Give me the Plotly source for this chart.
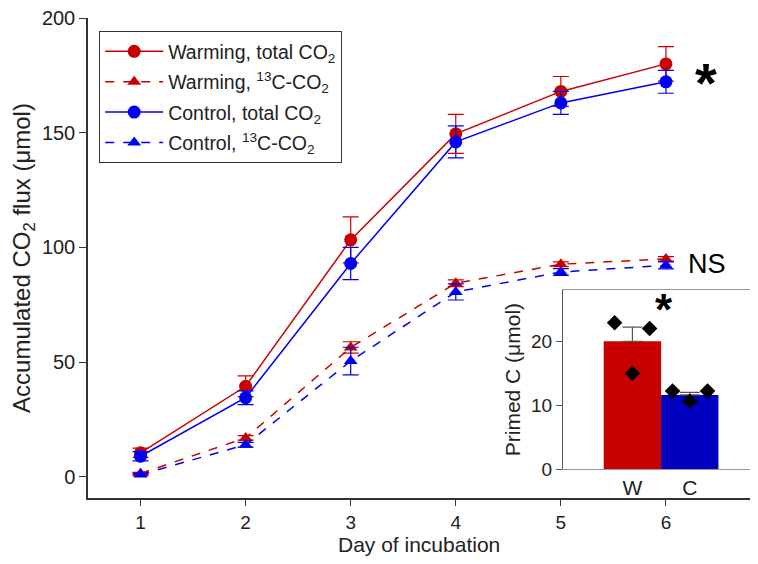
import plotly.graph_objects as go

days = [1, 2, 3, 4, 5, 6]
warm_total = [10.5, 39.5, 103.3, 149.5, 168.0, 180.0]
warm_total_err = [2.0, 4.5, 10.0, 8.5, 6.5, 7.5]
ctrl_total = [9.0, 34.5, 93.0, 146.0, 163.0, 172.2]
ctrl_total_err = [2.0, 3.0, 7.0, 7.0, 5.0, 5.0]
warm_13c = [1.5, 17.0, 56.4, 84.4, 92.7, 95.0]
warm_13c_err = [0.5, 1.0, 2.5, 1.5, 1.0, 1.0]
ctrl_13c = [1.0, 14.0, 50.5, 80.6, 89.3, 92.2]
ctrl_13c_err = [0.5, 1.0, 6.0, 3.5, 1.5, 1.5]

inset_cats = [0, 1]
inset_labels = ["W", "C"]
primed_mean = [20.0, 11.6]
primed_err = [2.2, 0.4]
primed_pts_x = [-0.31, 0.0, 0.3, 0.7, 1.0, 1.31]
primed_pts_y = [22.9, 15.0, 22.0, 12.2, 10.6, 12.2]

RED = "#C80000"
BLUE = "#0000F0"
FONT = "Arial"

fig = go.Figure()

def add_series(y, err, name, color, symbol, dash):
    fig.add_trace(go.Scatter(
        x=days, y=y, name=name, mode="lines+markers",
        line=dict(color=color, width=1.5, dash=dash),
        marker=dict(color=color, size=13 if symbol == "circle" else 12, symbol=symbol),
        error_y=dict(type="data", array=err, color=color, thickness=1.2, width=8),
        legendgroup=name,
    ))

add_series(warm_total, warm_total_err, "Warming, total CO<sub>2</sub>", RED, "circle", "solid")
add_series(warm_13c, warm_13c_err, "Warming, <sup>13</sup>C-CO<sub>2</sub>", RED, "triangle-up", "dash")
add_series(ctrl_total, ctrl_total_err, "Control, total CO<sub>2</sub>", BLUE, "circle", "solid")
add_series(ctrl_13c, ctrl_13c_err, "Control, <sup>13</sup>C-CO<sub>2</sub>", BLUE, "triangle-up", "dash")

fig.add_trace(go.Bar(
    x=inset_cats, y=primed_mean, width=1.0,
    marker=dict(color=["#C80000", "#0000C0"], line=dict(width=0)),
    error_y=dict(type="data", array=primed_err, arrayminus=[0, 0], color="#555555", thickness=1.2, width=10),
    xaxis="x2", yaxis="y2", showlegend=False,
))
fig.add_trace(go.Scatter(
    x=primed_pts_x, y=primed_pts_y, mode="markers",
    marker=dict(symbol="diamond", size=12, color="black"),
    xaxis="x2", yaxis="y2", showlegend=False,
))

# page body has an 8px margin; figure sized so the plot area lands where the reference has it
W, H = 742, 549
L, T, B = 80, 10, 59

fig.update_layout(
    width=W, height=H,
    margin=dict(l=L, r=0, t=T, b=B, autoexpand=False),
    paper_bgcolor="white", plot_bgcolor="white",
    font=dict(family=FONT, size=20, color="#222"),
    showlegend=True,
    legend=dict(
        x=0.0166, y=0.973, xanchor="left", yanchor="top",
        bordercolor="#333", borderwidth=1.2, bgcolor="white",
        font=dict(size=19.5, family=FONT, color="#222"),
        tracegroupgap=2, itemwidth=58,
    ),
    xaxis=dict(
        domain=[0, 1], range=[0.5, 6.8], tickvals=days, automargin=False,
        ticklabeloverflow="allow",
        showline=True, linecolor="#333", linewidth=1.5,
        ticks="outside", ticklen=6, tickcolor="#333",
        showgrid=False, zeroline=False,
        tickfont=dict(size=19),
    ),
    yaxis=dict(
        domain=[0, 1], range=[-9.2, 200], tickvals=[0, 50, 100, 150, 200], automargin=False,
        ticklabeloverflow="allow",
        showline=True, linecolor="#333", linewidth=1.5,
        ticks="outside", ticklen=7, tickcolor="#333",
        showgrid=False, zeroline=False,
        tickfont=dict(size=20),
        title=dict(text="Accumulated CO<sub>2</sub> flux (μmol)", font=dict(size=24), standoff=8),
    ),
    xaxis2=dict(
        domain=[0.7175, 1.0], range=[-1.21, 2.05], anchor="y2", automargin=False,
        tickvals=inset_cats, ticktext=inset_labels, ticks="",
        showline=True, mirror=True, linecolor="#999", linewidth=1,
        showgrid=False, zeroline=False, tickfont=dict(size=21),
    ),
    yaxis2=dict(
        domain=[0.0604, 0.433], range=[0, 28], anchor="x2", automargin=False,
        tickvals=[0, 10, 20],
        showline=True, linecolor="#555", linewidth=1,
        ticks="outside", ticklen=6, tickcolor="#555",
        showgrid=False, zeroline=False, tickfont=dict(size=19),
        title=dict(text="Primed C (μmol)", font=dict(size=21), standoff=4),
    ),
    annotations=[
        dict(text="Day of incubation", x=0.5, y=-0.096, xref="paper", yref="paper",
             showarrow=False, font=dict(size=21), xanchor="center", yanchor="middle"),
        dict(text="<b>*</b>", x=6.38, y=172, xref="x", yref="y", showarrow=False,
             font=dict(size=56, color="black"), yanchor="middle"),
        dict(text="NS", x=6.39, y=93, xref="x", yref="y", showarrow=False,
             font=dict(size=27, color="black"), xanchor="center"),
        dict(text="<b>*</b>", x=0.55, y=25.0, xref="x2", yref="y2", showarrow=False,
             font=dict(size=44, color="black")),
    ],
)

fig.write_html("out.html")
